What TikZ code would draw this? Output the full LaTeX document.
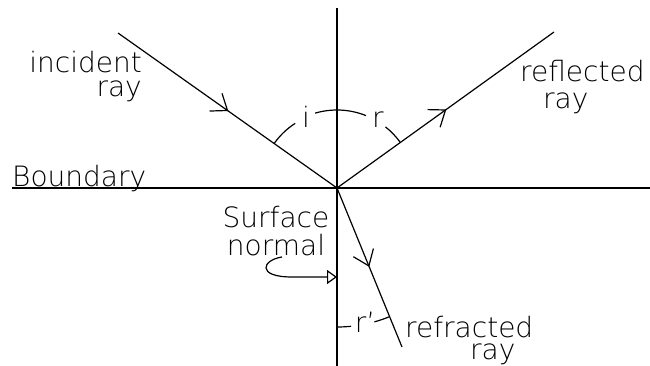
\documentclass[tikz,border=0pt]{standalone}
\usepackage{fontspec}
\setmainfont{DejaVu Sans ExtraLight}
\usetikzlibrary{calc,arrows.meta}
\begin{document}
\begin{tikzpicture}[x=1pt,y=-1pt,
  ln/.style={line width=1.2pt,black},
  lbl/.style={inner sep=0pt,font=\fontsize{28}{24}\selectfont},
  chev/.style={line width=1.2pt,line join=miter}]
\useasboundingbox (0,0) rectangle (650,366);
% key points
\coordinate (O) at (337,188);
\coordinate (NT) at (337,8);
\coordinate (NB) at (337,366);
\coordinate (BL) at (12,188);
\coordinate (BR) at (650,188);
\coordinate (S1) at (118,33);
\coordinate (E2) at (554,32);
\coordinate (E3) at (402,347);
% lines
\draw[ln] (BL) -- (BR);
\draw[ln] (NT) -- (NB);
\draw[ln] (S1) -- (O);
\draw[ln] (O) -- (E2);
\draw[ln] (O) -- (E3);
% arrowheads (open chevrons)
\coordinate (T1) at ($(S1)!0.5!(O)$);
\coordinate (T2) at ($(O)!0.5!(E2)$);
\coordinate (T3) at ($(O)!0.49!(E3)$);
\draw[chev] ($(T1)!18pt!37:(S1)$) -- (T1) -- ($(T1)!18pt!-37:(S1)$);
\draw[chev] ($(T2)!18pt!37:(O)$) -- (T2) -- ($(T2)!18pt!-37:(O)$);
\draw[chev] ($(T3)!18pt!37:(O)$) -- (T3) -- ($(T3)!18pt!-37:(O)$);
% angle arcs i and r
\draw[ln] (O) ++(-144.7:77) arc[start angle=-144.7, end angle=-122.9, radius=77];
\draw[ln] (O) ++(-106.3:78) arc[start angle=-106.3, end angle=-68.2, radius=78];
\draw[ln] (O) ++(-51.6:78) arc[start angle=-51.6, end angle=-35.7, radius=78];
% angle arc r'
\draw[ln] (O) ++(90:139) arc[start angle=90, end angle=84.2, radius=139];
\draw[ln] (O) ++(74.4:139) arc[start angle=74.4, end angle=67.8, radius=139];
% surface normal pointer
\coordinate (A0) at (282,257);
\coordinate (SN) at (337,277);
\draw[ln,-{Triangle[open,length=10pt,width=14pt,line width=1.2pt]}]
  (A0) .. controls (262,260) and (256,277) .. (292,277) -- (SN);
% labels (base anchor = baseline of last line)
\node[lbl,align=right,anchor=base east] (inc) at (142,97) {incident\\ray};
\node[lbl,align=left,anchor=base west] (ref) at (520,109) {reflected\\[3pt]\hspace*{23pt}ray};
\node[lbl,anchor=base west] (bnd) at (12,186) {Boundary};
\node[lbl,align=center,anchor=base] (sf) at (276,255) {Surface\\[4pt]normal};
\node[lbl,align=left,anchor=base west] (rfr) at (405,359) {refracted\\[-2pt]\hspace*{65pt}ray};
\node[lbl,anchor=base] (ai) at (306,128) {i};
\node[lbl,anchor=base] (ar) at (378,128) {r};
\node[lbl,anchor=base] (ar2) at (365,332) {r’};
\end{tikzpicture}
\end{document}
